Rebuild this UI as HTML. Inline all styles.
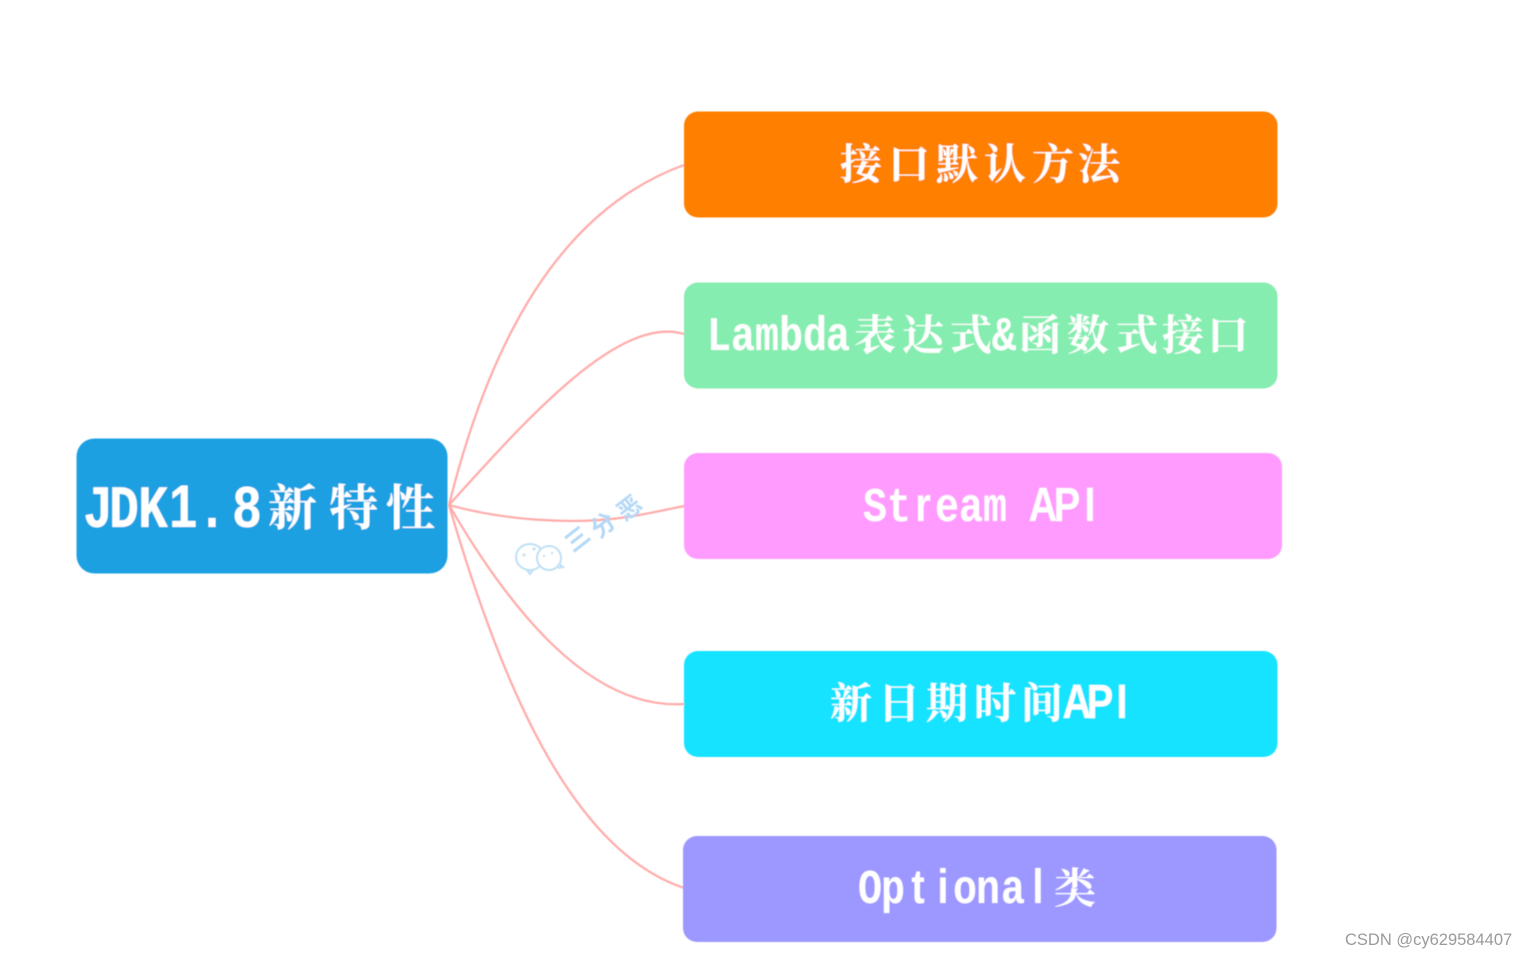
<!DOCTYPE html>
<html><head><meta charset="utf-8"><style>
html,body{margin:0;padding:0;background:#fff;width:1528px;height:958px;overflow:hidden}
svg{display:block}
.l{font-family:"Liberation Mono",monospace;font-weight:bold;fill:#fff;text-anchor:middle}
.s{font-family:"Liberation Sans",sans-serif;font-weight:bold}
.c{font-family:"Noto Serif CJK SC","Liberation Serif",serif;font-weight:700;fill:#fff}
</style></head><body>
<svg width="1528" height="958" viewBox="0 0 1528 958" xmlns="http://www.w3.org/2000/svg">
<defs><filter id="b" x="-5%" y="-5%" width="110%" height="110%"><feGaussianBlur stdDeviation="0.55"/></filter></defs>
<g filter="url(#b)">
<g fill="none" stroke="#ffaaa8" stroke-width="2.200">
<path d="M449 505C490 340 560 210 684 165"/>
<path d="M449 505C530 415 620 315 684 334"/>
<path d="M449 505C510 522 570 522 600 520C630 518 660 511 684 506"/>
<path d="M449 505C510 610 590 710 684 704"/>
<path d="M449 505C500 680 570 850 684 888"/>
</g>
<rect x="76.500" y="438.500" width="371" height="135" rx="18" fill="#1ca0e2"/>
<rect x="684" y="111.500" width="593.500" height="106" rx="14" fill="#ff7f00"/>
<rect x="684" y="282.500" width="593.500" height="106" rx="14" fill="#86edb0"/>
<rect x="684" y="453" width="598" height="106" rx="14" fill="#ff9bff"/>
<rect x="684" y="651" width="593.500" height="106" rx="14" fill="#14e3ff"/>
<rect x="683" y="836" width="593.500" height="106" rx="14" fill="#9d98ff"/>

<text class="l" transform="translate(0 527) scale(1 1.2)" font-size="50" x="98 124 153" >JDK<tspan class="s" x="183">1</tspan><tspan x="212">.</tspan><tspan x="247">8</tspan></text>
<text class="c" font-size="49" y="525" x="268 329 386">新特性</text>

<text class="c" font-size="42" y="179" x="840 888 936 984 1032 1078">接口默认方法</text>

<text class="l" transform="translate(0 350) scale(1 1.2)" font-size="40" x="719 743 767 791 815 838">Lambda</text>
<text class="c" font-size="42" y="350" x="854 902 950">表达式</text>
<text class="l" transform="translate(0 350) scale(1 1.2)" font-size="40" x="1004">&amp;</text>
<text class="c" font-size="42" y="350" x="1019 1067 1116 1162 1207">函数式接口</text>

<text class="l" transform="translate(0 521) scale(1 1.2)" font-size="40" x="875 899"><tspan>St</tspan><tspan class="s" x="923">r</tspan><tspan x="947 971 995">eam</tspan><tspan class="s" x="1043 1067 1090">API</tspan></text>

<text class="c" font-size="42" y="718" x="830 878 926 974 1021">新日期时间</text>
<text class="l" transform="translate(0 718) scale(1 1.2)" font-size="40"><tspan class="s" x="1077 1100 1122">API</tspan></text>

<text class="l" transform="translate(0 903) scale(1 1.2)" font-size="40"><tspan x="870 893">Op</tspan><tspan class="s" x="918 943">ti</tspan><tspan x="965 988 1013">ona</tspan><tspan class="s" x="1038">l</tspan></text>
<text class="c" font-size="42" y="903" x="1054">类</text>

<g fill="none" stroke="#bfe0f5" stroke-width="2">
<ellipse cx="530" cy="557" rx="14" ry="13"/>
<path d="M527 570l3 4 3-4"/>
<ellipse cx="549" cy="558" rx="12" ry="12" fill="#fff"/>
<path d="M559 564l4 3-5 1"/>
</g>
<g fill="#bfe0f5">
<circle cx="524" cy="555" r="1.500"/><circle cx="534" cy="549" r="1.500"/>
<circle cx="544" cy="556" r="1.200"/><circle cx="552" cy="553" r="1.200"/>
</g>
<g font-family="'Noto Sans CJK SC',sans-serif" font-size="24" font-weight="700" fill="#b4d8f6">
<text transform="translate(573 553) rotate(-38)">三</text>
<text transform="translate(599 539) rotate(-38)">分</text>
<text transform="translate(625 522) rotate(-38)">恶</text>
</g>
</g>
<text x="1345" y="945" font-family="'Liberation Sans',sans-serif" font-size="16.500" fill="#9a9a9a">CSDN @cy629584407</text>
</svg>
</body></html>
